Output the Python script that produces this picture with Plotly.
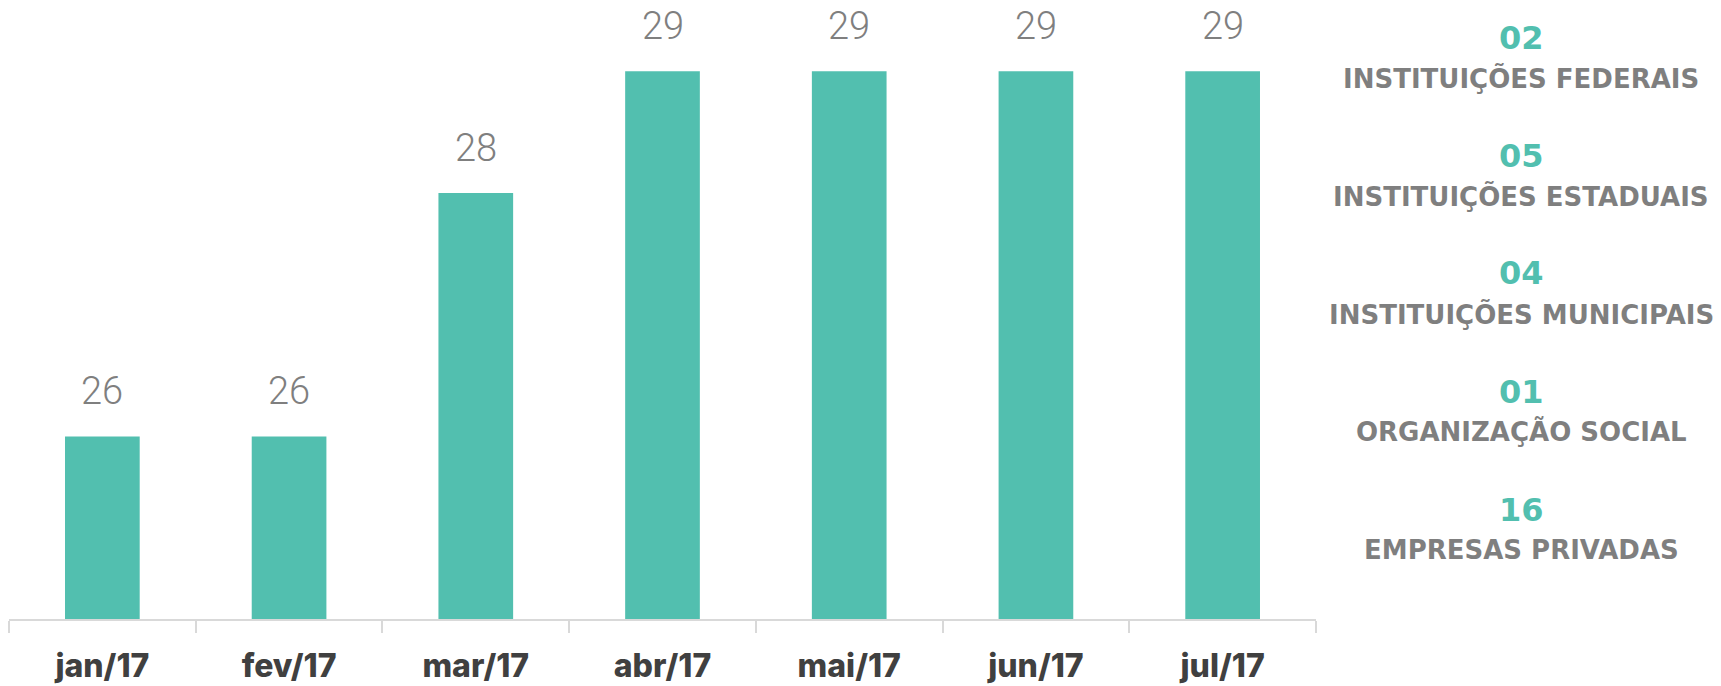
import plotly.graph_objects as go

categories = ["jan/17", "fev/17", "mar/17", "abr/17", "mai/17", "jun/17", "jul/17"]
values = [26, 26, 28, 29, 29, 29, 29]
side_counts = ["02", "05", "04", "01", "16"]
side_labels = ["INSTITUIÇÕES FEDERAIS", "INSTITUIÇÕES ESTADUAIS", "INSTITUIÇÕES MUNICIPAIS",
               "ORGANIZAÇÃO SOCIAL", "EMPRESAS PRIVADAS"]

TEAL = "#52BFAF"
GRAY = "#7F7F7F"
DARK = "#404040"

# the page body has an 8px default margin; size the figure to fit the window
W, H = 1713, 678
L, R, T, B = 1, 405, 0, 67
PLOT_H = H - T - B
PLOT_W = W - L - R
PX_PER_UNIT = 121.7
Y_MIN = 24.5

fig = go.Figure()
fig.add_trace(go.Bar(x=categories, y=values, marker=dict(color=TEAL, line=dict(width=0)),
                     hoverinfo="skip"))

for c, v in zip(categories, values):
    fig.add_annotation(x=c, y=v, text=str(v), showarrow=False, yshift=45, yanchor="middle",
                       font=dict(family="Roboto", size=38, color=GRAY, weight=300))

# side panel
side_x = (1513 - L) / PLOT_W
side_y0 = 29.5
side_step = 118
for i, (n, lab) in enumerate(zip(side_counts, side_labels)):
    yc = side_y0 + i * side_step
    fig.add_annotation(xref="paper", yref="paper", x=side_x, y=1 - (yc - T) / PLOT_H,
                       text="<b>%s</b>" % n, showarrow=False, xanchor="center", yanchor="middle",
                       font=dict(family="DejaVu Sans", size=32, color=TEAL))
    fig.add_annotation(xref="paper", yref="paper", x=side_x, y=1 - (yc + 40.5 - T) / PLOT_H,
                       text="<b>%s</b>" % lab, showarrow=False, xanchor="center", yanchor="middle",
                       font=dict(family="DejaVu Sans", size=26, color=GRAY))

fig.update_layout(
    width=W, height=H,
    margin=dict(l=L, r=R, t=T, b=B, autoexpand=False),
    paper_bgcolor="white", plot_bgcolor="white",
    bargap=0.6, showlegend=False,
    xaxis=dict(range=[-0.5, 6.5], showline=True, linecolor="#D9D9D9", linewidth=2,
               ticks="outside", tickson="boundaries", ticklen=12, tickcolor="#D9D9D9", tickwidth=2,
               ticklabelstandoff=18,
               tickfont=dict(family="Inter", size=32, color=DARK, weight=800), showgrid=False,
               fixedrange=True),
    yaxis=dict(range=[Y_MIN, Y_MIN + PLOT_H / PX_PER_UNIT], visible=False, showgrid=False,
               fixedrange=True),
)

fig.write_html("out.html")
